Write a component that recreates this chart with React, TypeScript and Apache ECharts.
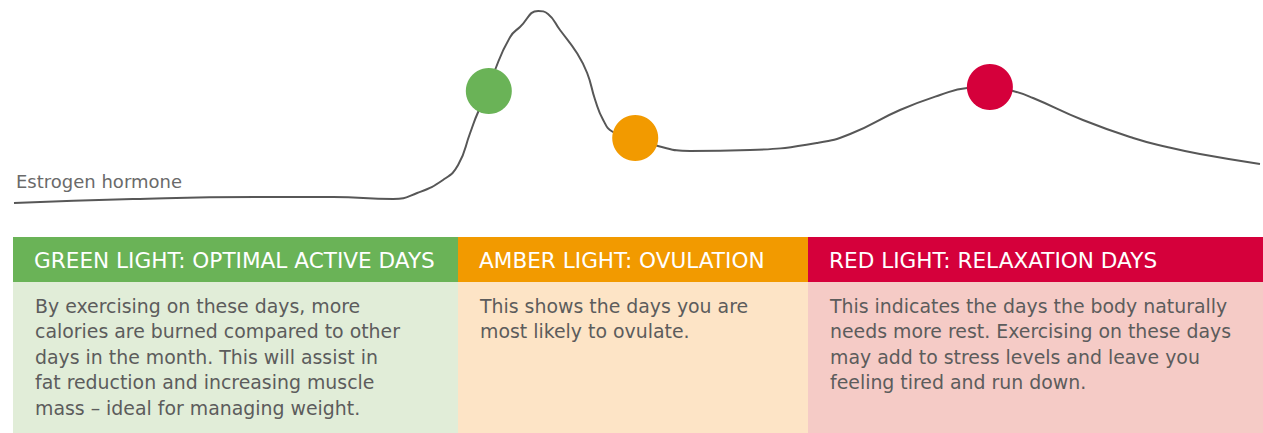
import React, { useEffect, useRef } from "react";
import * as echarts from "echarts";

// Estrogen level across the cycle (day of cycle, relative level 0-100)
const cycleDays = [0, 2.67, 5.69, 7.17, 8.52, 9.06, 9.64, 9.98, 10.25, 10.43, 10.67, 10.81, 11.15, 11.37, 11.78, 12.0, 12.27, 12.65, 12.88, 13.06, 13.24, 13.46, 13.96, 14.47, 15.19, 16.54, 18.04, 18.79, 19.91, 20.81, 21.42, 21.93, 22.45, 22.9, 24.02, 25.15, 25.91, 26.65, 28];
const estrogenLevels = [3.5, 5.5, 6.5, 6.5, 5.5, 8.5, 15, 22.5, 38.5, 49, 59.5, 70, 86.5, 91.5, 99.5, 98, 90, 78.5, 68.5, 55, 45, 39, 36, 32, 29.5, 30, 33.5, 38, 50, 57.5, 61, 61.5, 59.5, 56, 45, 36, 31.5, 28, 23];

// Phase markers on the curve
const markerDays = [10.67, 13.96, 21.93];
const markerLevels = [59.5, 36, 61.5];
const markerColors = ["#6ab357", "#f29a00", "#d5003b"];

const seriesLabel = "Estrogen hormone";

const phaseTitles = [
  "GREEN LIGHT: OPTIMAL ACTIVE DAYS",
  "AMBER LIGHT: OVULATION",
  "RED LIGHT: RELAXATION DAYS",
];
const phaseTexts = [
  [
    "By exercising on these days, more",
    "calories are burned compared to other",
    "days in the month. This will assist in",
    "fat reduction and increasing muscle",
    "mass \u2013 ideal for managing weight.",
  ],
  ["This shows the days you are", "most likely to ovulate."],
  [
    "This indicates the days the body naturally",
    "needs more rest. Exercising on these days",
    "may add to stress levels and leave you",
    "feeling tired and run down.",
  ],
];
const headerColors = ["#6ab357", "#f29a00", "#d5003b"];
const bodyColors = ["#e1edd8", "#fde4c6", "#f5cbc6"];

const FONT = "'DejaVu Sans', sans-serif";

export default function App() {
  const ref = useRef<HTMLDivElement>(null);
  useEffect(() => {
    document.body.style.margin = "0";
    if (!ref.current) return;
    const chart = echarts.init(ref.current, undefined, { renderer: "svg" });

    const boxX = [13, 458, 808];
    const boxW = [445, 350, 455];
    const graphics: any[] = [];
    phaseTitles.forEach((t, i) => {
      graphics.push({
        type: "rect",
        shape: { x: boxX[i], y: 237, width: boxW[i], height: 45 },
        style: { fill: headerColors[i] },
        silent: true,
      });
      graphics.push({
        type: "rect",
        shape: { x: boxX[i], y: 282, width: boxW[i], height: 151 },
        style: { fill: bodyColors[i] },
        silent: true,
      });
      graphics.push({
        type: "text",
        x: boxX[i] + 21,
        y: 260,
        style: {
          text: t,
          fill: "#ffffff",
          font: `21.6px ${FONT}`,
          verticalAlign: "middle",
          align: "left",
        },
      });
      graphics.push({
        type: "text",
        x: boxX[i] + 22,
        y: 293,
        style: {
          text: phaseTexts[i].join("\n"),
          fill: "#5c5c5c",
          font: `18.9px ${FONT}`,
          lineHeight: 25.5,
          verticalAlign: "top",
          align: "left",
        },
      });
    });
    graphics.push({
      type: "text",
      x: 16,
      y: 181,
      style: {
        text: seriesLabel,
        fill: "#6a6a6a",
        font: `18px ${FONT}`,
        verticalAlign: "middle",
        align: "left",
      },
    });

    chart.setOption({
      animation: false,
      grid: { left: 14, width: 1246, top: 10, height: 200 },
      xAxis: { type: "value", min: 0, max: 28, show: false },
      yAxis: { type: "value", min: 0, max: 100, show: false },
      series: [
        {
          type: "line",
          name: seriesLabel,
          data: cycleDays.map((d, i) => [d, estrogenLevels[i]]),
          smooth: 0.5,
          showSymbol: false,
          lineStyle: { color: "#575757", width: 2 },
          silent: true,
          z: 2,
        },
        {
          type: "scatter",
          data: markerDays.map((d, i) => ({
            value: [d, markerLevels[i]],
            itemStyle: { color: markerColors[i], opacity: 1 },
          })),
          symbolSize: 46,
          silent: true,
          z: 5,
        },
      ],
      graphic: graphics,
    });
    return () => chart.dispose();
  }, []);
  return <div ref={ref} style={{ width: 1263, height: 433 }} />;
}
